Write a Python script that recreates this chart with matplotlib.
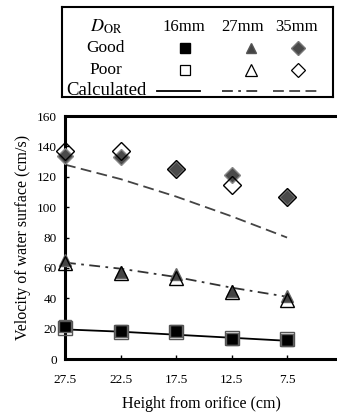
import matplotlib
matplotlib.use("Agg")
import matplotlib.pyplot as plt
import numpy as np

plt.rcParams['font.family'] = ['Liberation Serif', 'DejaVu Serif']
plt.rcParams['mathtext.fontset'] = 'stix'

# data
heights = ['27.5', '22.5', '17.5', '12.5', '7.5']
good_16 = [21.5, 18.5, 18.5, 13.5, 12.5]
poor_16 = [20.5, 18.0, 17.5, 14.0, 13.0]
calc_16 = [19.5, 18.0, 16.0, 14.0, 12.0]
good_27 = [65, 57.5, 56, 45, 41.5]
poor_27 = [63, 56.5, 53.5, 44, 39]
calc_27 = [63.5, 59.5, 54, 47, 41]
good_35 = [134, 133, 125, 121.5, 107]
poor_35 = [137, 137, 125, 114.5, 107]
calc_35 = [128, 118.5, 107, 94, 80]

x = np.arange(len(heights))

fig = plt.figure(figsize=(3.37, 4.16), dpi=100)

# main plot
ax = fig.add_axes([0.193, 0.137, 0.807, 0.584])
ax.plot(x, calc_16, color='black', lw=1.3, zorder=2)
ax.plot(x, calc_27, color='#333333', lw=1.3, ls=(0, (6, 3, 1.5, 3)), zorder=2)
ax.plot(x, calc_35, color='#444444', lw=1.3, ls=(0, (6, 3)), zorder=2)

ax.plot(x, good_16, 's', ms=9, mfc='black', mec='#666666', mew=1, ls='none', clip_on=False, zorder=3)
ax.plot(x, good_27, '^', ms=9, mfc='#444444', mec='#666666', mew=1, ls='none', clip_on=False, zorder=3)
ax.plot(x, good_35, 'D', ms=8.5, mfc='#4a4a4a', mec='#888888', mew=1, ls='none', clip_on=False, zorder=3)
ax.plot(x, poor_16, 's', ms=10, mfc='none', mec='#555555', mew=1, ls='none', clip_on=False, zorder=4)
ax.plot(x, poor_27, '^', ms=10, mfc='none', mec='black', mew=1, ls='none', clip_on=False, zorder=4)
ax.plot(x, poor_35, 'D', ms=9.5, mfc='none', mec='black', mew=1, ls='none', clip_on=False, zorder=4)

ax.set_xlim(0, 4.9)
ax.set_ylim(0, 160)
ax.set_yticks(np.arange(0, 161, 20))
ax.set_xticks(x)
ax.set_xticklabels(heights)
ax.tick_params(axis='both', labelsize=9.5, direction='in', length=3, width=1)
ax.tick_params(axis='x', pad=11)
ax.tick_params(axis='y', pad=6)
for s in ['left', 'bottom', 'top']:
    ax.spines[s].set_linewidth(2.2)
ax.spines['right'].set_visible(False)
ax.set_xlabel('Height from orifice (cm)', fontsize=11.5, labelpad=7)
ax.set_ylabel('Velocity of water surface (cm/s)', fontsize=11.5, labelpad=4)

# legend table
lg = fig.add_axes([0.184, 0.767, 0.804, 0.216])
lg.set_xlim(0, 1)
lg.set_ylim(0, 1)
lg.set_xticks([])
lg.set_yticks([])
for s in lg.spines.values():
    s.set_linewidth(1.5)

cols = [0.454, 0.697, 0.871]
heads = [0.450, 0.668, 0.867]
rows = [0.778, 0.544, 0.30, 0.067]
lg.text(0.165, rows[0], r'$D_{\mathrm{OR}}$', ha='center', va='center', fontsize=13)
for c, t in zip(heads, ['16mm', '27mm', '35mm']):
    lg.text(c, rows[0], t, ha='center', va='center', fontsize=12)
for r, t, f in zip(rows[1:], ['Good', 'Poor', 'Calculated'], [12.5, 12.5, 13.5]):
    lg.text(0.162, r, t, ha='center', va='center', fontsize=f)

lg.plot(cols[0], rows[1], 's', ms=7, mfc='black', mec='black')
lg.plot(cols[1], rows[1], '^', ms=7, mfc='#444444', mec='#555555')
lg.plot(cols[2], rows[1], 'D', ms=7, mfc='#4a4a4a', mec='#777777')
lg.plot(cols[0], rows[2], 's', ms=7, mfc='none', mec='black', mew=0.9)
lg.plot(cols[1], rows[2], '^', ms=8, mfc='none', mec='black', mew=0.9)
lg.plot(cols[2], rows[2], 'D', ms=7.5, mfc='none', mec='black', mew=0.9)
lg.plot([0.35, 0.51], [rows[3]] * 2, color='black', lw=1.3)
lg.plot([0.59, 0.73], [rows[3]] * 2, color='#333333', lw=1.3, ls=(0, (6, 3, 1.5, 3)))
lg.plot([0.78, 0.945], [rows[3]] * 2, color='#444444', lw=1.3, ls=(0, (6, 3)))

fig.savefig('out.png', dpi=100)
